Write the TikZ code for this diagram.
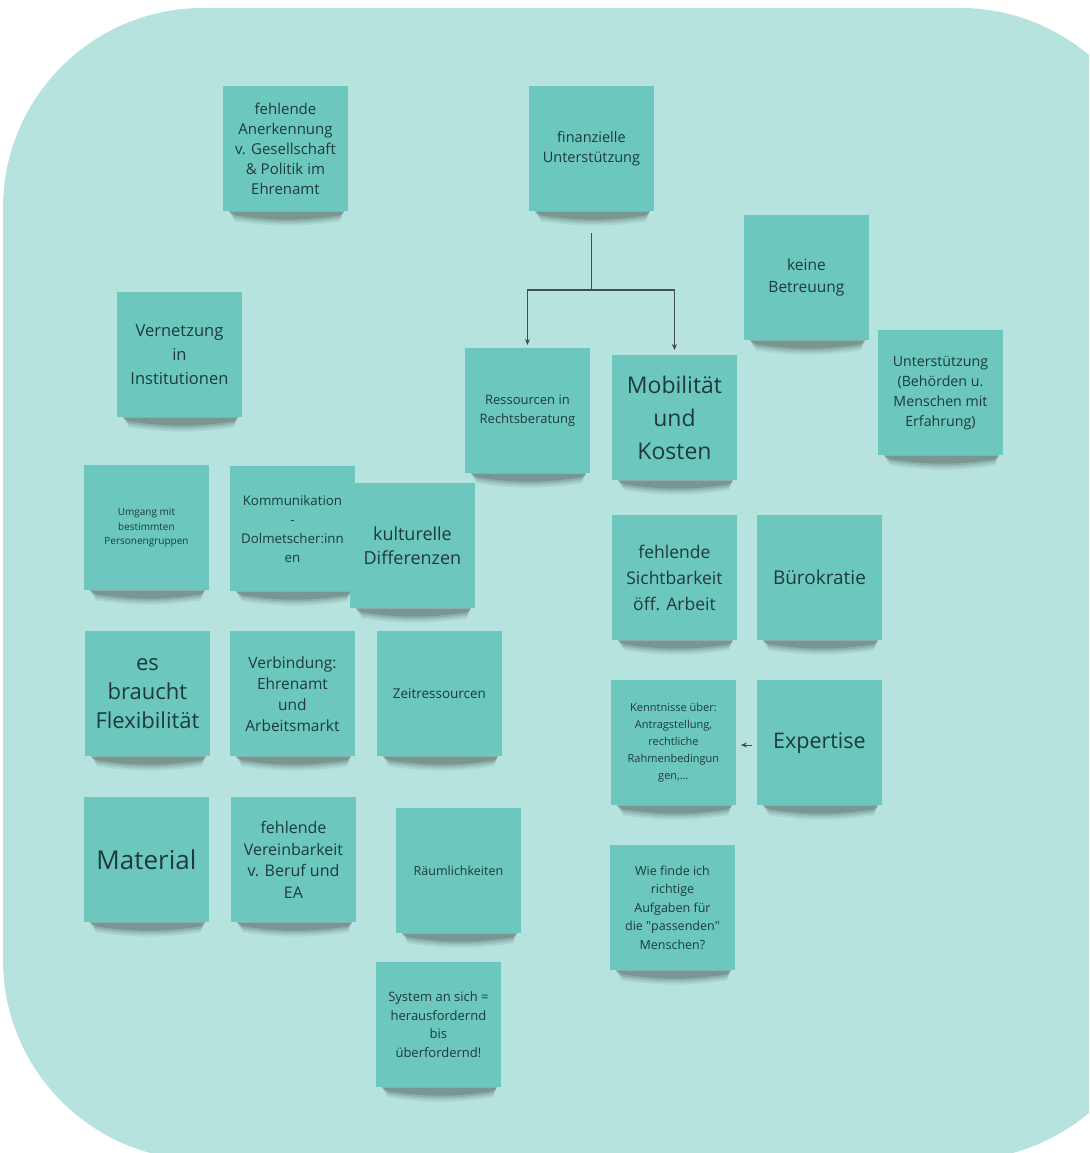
\documentclass[tikz,border=0pt]{standalone}
\usepackage{fontspec}
\setmainfont{Open Sans}
\usetikzlibrary{arrows.meta}
\definecolor{bgteal}{HTML}{B6E3DD}
\definecolor{notefill}{HTML}{6CC8BE}
\definecolor{notetext}{HTML}{1E3A3C}
\definecolor{linegray}{HTML}{4A4A4A}
\pgfdeclarelayer{back}
\pgfdeclarelayer{shade}
\pgfsetlayers{back,shade,main}
\tikzset{
  note/.style={rectangle, fill=notefill, text=notetext, anchor=north west,
    minimum width=124.5pt, minimum height=125pt, inner sep=0pt, align=center},
  fs/.style 2 args={font=\fontsize{#1}{#2}\selectfont},
  conn/.style={draw=linegray, line width=1.3pt},
  tip/.style={-{Stealth[length=6pt,width=5pt]}}
}
\begin{document}
\begin{tikzpicture}[x=1pt,y=-1pt]
\useasboundingbox (0,0) rectangle (1089,1153);
\begin{pgfonlayer}{back}
\begin{scope}
\clip (0,0) rectangle (1089,1153);
\fill[bgteal, rounded corners=200pt] (3,8) rectangle (1160,1160);
\end{scope}
\end{pgfonlayer}

\node[note, fs={15}{20}] (anerk) at (223,86) {fehlende\\Anerkennung\\v. Gesellschaft\\\& Politik im\\Ehrenamt};
\node[note, fs={14.5}{20}] (fin) at (529,86) {finanzielle\\Unterstützung};
\node[note, fs={15.5}{22}] (betr) at (744,215) {keine\\Betreuung};
\node[note, fs={16.5}{24}] (vern) at (117,292) {Vernetzung\\in\\Institutionen};
\node[note, fs={13}{19}] (ress) at (465,348) {Ressourcen in\\Rechtsberatung};
\node[note, fs={23}{33}] (mob) at (612,355) {Mobilität\\und\\Kosten};
\node[note, fs={14.2}{20}] (unter) at (878,330) {Unterstützung\\(Behörden u.\\Menschen mit\\Erfahrung)};
\node[note, fs={10}{14.5}] (umg) at (84,465) {Umgang mit\\bestimmten\\Personengruppen};
\node[note, fs={13.3}{19}] (komm) at (230,466) {Kommunikation\\-\\Dolmetscher:inn\\en};
\node[note, fs={18}{24}] (kult) at (350,483) {kulturelle\\Differenzen};
\node[note, fs={17.5}{26}] (sicht) at (612,515) {fehlende\\Sichtbarkeit\\öff. Arbeit};
\node[note, fs={19}{24}] (buero) at (757,515) {Bürokratie};
\node[note, fs={22}{29}] (flex) at (85,631) {es\\braucht\\Flexibilität};
\node[note, fs={15.5}{21}] (verb) at (230,631) {Verbindung:\\Ehrenamt\\und\\Arbeitsmarkt};
\node[note, fs={13.5}{19}] (zeit) at (377,631) {Zeitressourcen};
\node[note, fs={11}{17}] (kennt) at (611,680) {Kenntnisse über:\\Antragstellung,\\rechtliche\\Rahmenbedingun\\gen,...};
\node[note, fs={21.5}{26}] (exp) at (757,680) {Expertise};
\node[note, fs={26}{30}] (mat) at (84,797) {Material};
\node[note, fs={16}{21.5}] (verein) at (231,797) {fehlende\\Vereinbarkeit\\v. Beruf und\\EA};
\node[note, fs={12.5}{18}] (raum) at (396,808) {Räumlichkeiten};
\node[note, fs={12.5}{18.5}] (wie) at (610,845) {Wie finde ich\\richtige\\Aufgaben für\\die \textquotedbl passenden\textquotedbl\\Menschen?};
\node[note, fs={13}{18.5}] (sys) at (376,962) {System an sich =\\herausfordernd\\bis\\überfordernd!};

\begin{pgfonlayer}{shade}
\foreach \n in {anerk,fin,betr,vern,ress,mob,unter,umg,komm,kult,sicht,buero,flex,verb,zeit,kennt,exp,mat,verein,raum,wie,sys}{
  \foreach \d/\o in {10/.06,8/.08,6/.10,4/.14}{
    \fill[black, opacity=\o] ([xshift=6pt]\n.south west) -- ([xshift=-4pt]\n.south east)
      -- ([xshift=-8pt,yshift=-\d pt]\n.south east) to[bend left=8] ([xshift=12pt,yshift=-\d pt]\n.south west) -- cycle;
  }
}
\end{pgfonlayer}

\coordinate (branch) at (fin.south |- 0,290);
\draw[conn] ([yshift=-22pt]fin.south) -- (branch);
\draw[conn, tip, shorten >=3pt] (branch) -| (ress.north);
\draw[conn, tip, shorten >=5pt] (branch) -| (mob.north);
\draw[conn, tip, line width=1pt, shorten <=5pt, shorten >=5pt] (exp.west |- 0,745) -- (kennt.east |- 0,745);
\end{tikzpicture}
\end{document}
